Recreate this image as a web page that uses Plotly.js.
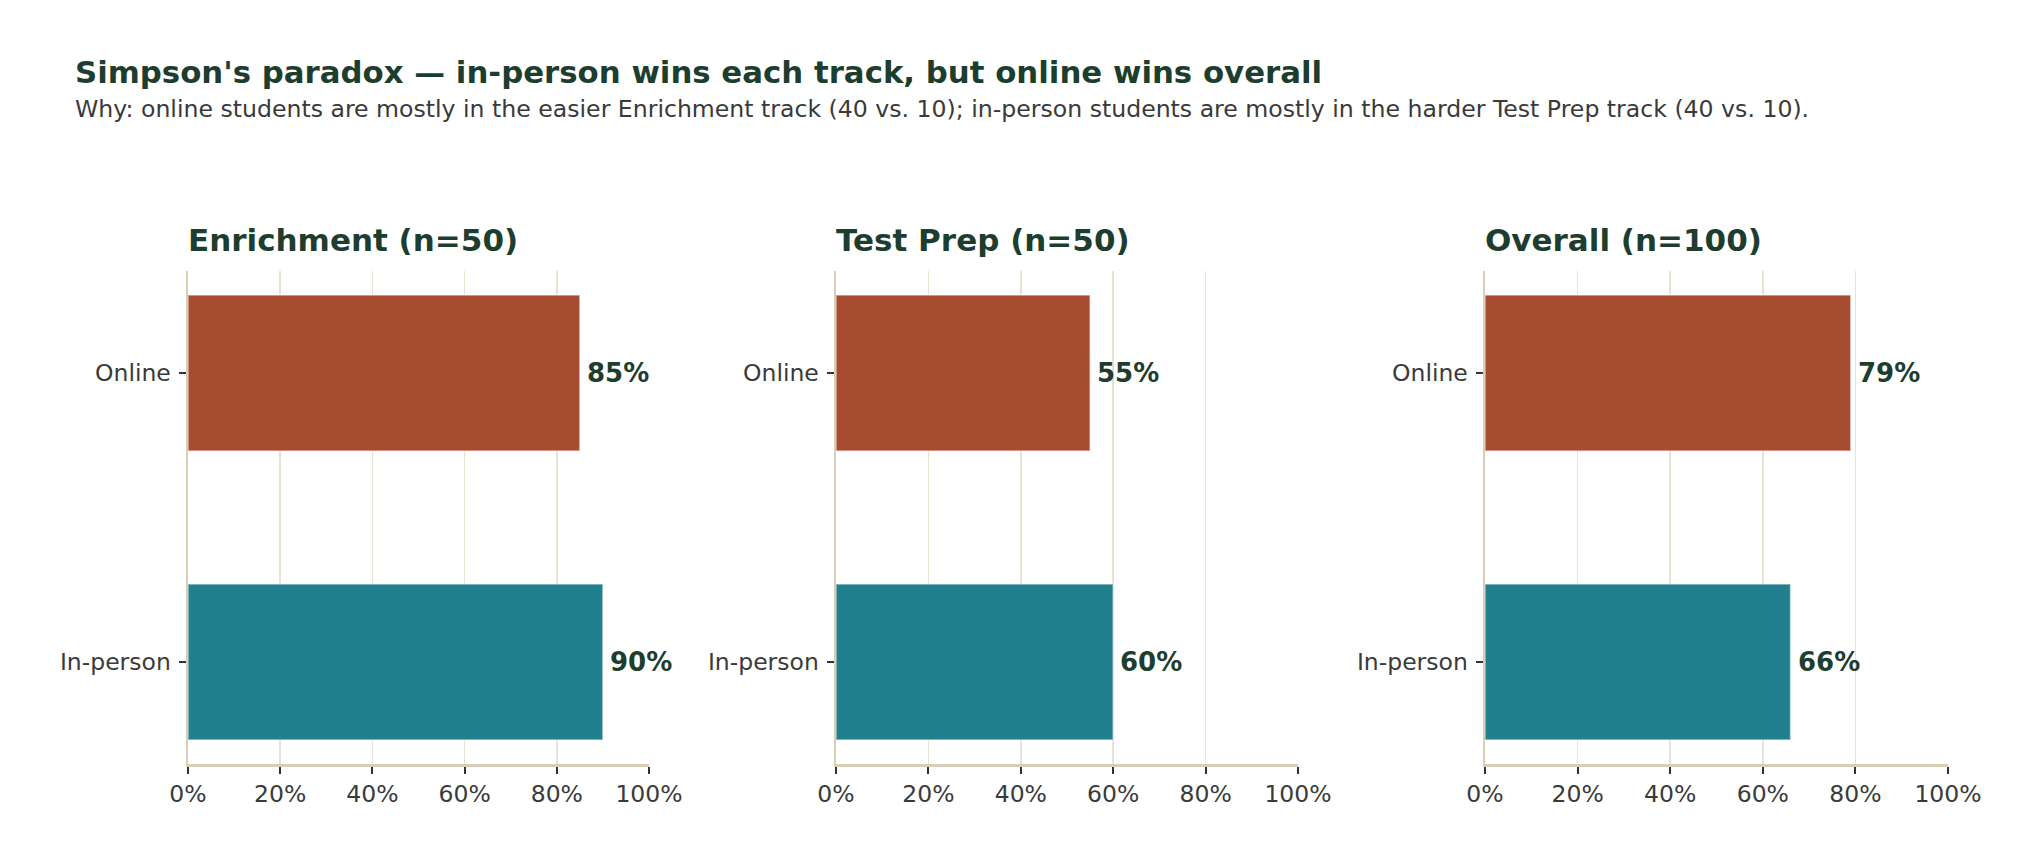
<!DOCTYPE html>
<html>
<head>
<meta charset="utf-8">
<script src="https://cdn.plot.ly/plotly-3.0.1.min.js"></script>
<style>
  html, body { margin: 0; padding: 0; background: #ffffff; }
  #chart { width: 2040px; height: 864px; }
</style>
</head>
<body>
<div id="chart"></div>
<script>
// data
var panels = ["Enrichment (n=50)", "Test Prep (n=50)", "Overall (n=100)"];
var groups = ["In-person", "Online"];
var inPerson = [90, 60, 66];
var online = [85, 55, 79];
var xTicks = [0, 20, 40, 60, 80, 100];
var xTickText = ["0%", "20%", "40%", "60%", "80%", "100%"];

var colOnline = "#a84c31";
var colInPerson = "#21808d";
var ink = "#1d3d2f";
var grey = "#3a3a3a";

var W = 2040, H = 864;
// plot areas, in pixels
var xDom = [[188, 649], [836, 1298], [1485, 1948]];
var yTop = 271, yBot = 764;

var data = [];
var annotations = [];
var layout = {
  width: W,
  height: H,
  margin: {l: 0, r: 0, t: 0, b: 0},
  paper_bgcolor: "#ffffff",
  plot_bgcolor: "#ffffff",
  showlegend: false,
  font: {family: "DejaVu Sans", size: 23.5, color: grey},
  bargap: 0.46
};

for (var i = 0; i < panels.length; i++) {
  var sfx = i == 0 ? "" : String(i + 1);
  var xa = "x" + sfx, ya = "y" + sfx;
  var vals = [inPerson[i], online[i]];

  data.push({
    type: "bar",
    orientation: "h",
    x: vals,
    y: groups,
    xaxis: xa,
    yaxis: ya,
    width: 0.54,
    marker: {
      color: [colInPerson, colOnline],
      line: {color: "rgba(255,255,255,0.55)", width: 1.5}
    },
    hoverinfo: "none"
  });

  layout["xaxis" + sfx] = {
    domain: [xDom[i][0] / W, xDom[i][1] / W],
    anchor: ya,
    range: [0, 100],
    tickvals: xTicks,
    ticktext: xTickText,
    ticks: "outside",
    ticklen: 7,
    tickwidth: 2,
    tickcolor: "#333333",
    showgrid: true,
    gridcolor: "#e8e2d4",
    gridwidth: 1.5,
    zeroline: false,
    showline: true,
    linecolor: "#d9cdb5",
    linewidth: 2.5,
    tickfont: {size: 23.5, color: grey},
    fixedrange: true
  };
  layout["yaxis" + sfx] = {
    domain: [1 - yBot / H, 1 - yTop / H],
    anchor: xa,
    type: "category",
    categoryorder: "array",
    categoryarray: groups,
    range: [-0.353, 1.353],
    ticks: "outside",
    ticklen: 7,
    tickwidth: 2,
    tickcolor: "#333333",
    ticklabelstandoff: 3,
    showgrid: false,
    zeroline: false,
    showline: true,
    linecolor: "#d9cdb5",
    linewidth: 2.5,
    tickfont: {size: 23.5, color: grey},
    fixedrange: true
  };

  // panel title
  annotations.push({
    xref: "paper", yref: "paper",
    x: xDom[i][0] / W, y: 1 - 240 / H,
    xanchor: "left", yanchor: "middle",
    xshift: -2,
    text: "<b>" + panels[i] + "</b>",
    showarrow: false,
    font: {size: 31, color: ink}
  });

  // value labels
  for (var k = 0; k < groups.length; k++) {
    annotations.push({
      xref: xa, yref: ya,
      x: vals[k], y: groups[k],
      xanchor: "left", yanchor: "middle",
      xshift: 5,
      text: "<b>" + vals[k] + "%</b>",
      showarrow: false,
      font: {size: 26, color: ink}
    });
  }
}

annotations.push({
  xref: "paper", yref: "paper",
  x: 73 / W, y: 1 - 72 / H,
  xanchor: "left", yanchor: "middle",
  text: "<b>Simpson's paradox \u2014 in-person wins each track, but online wins overall</b>",
  showarrow: false,
  font: {size: 30.8, color: ink}
});
annotations.push({
  xref: "paper", yref: "paper",
  x: 73 / W, y: 1 - 108.5 / H,
  xanchor: "left", yanchor: "middle",
  text: "Why: online students are mostly in the easier Enrichment track (40 vs. 10); in-person students are mostly in the harder Test Prep track (40 vs. 10).",
  showarrow: false,
  font: {size: 23.6, color: grey}
});

layout.annotations = annotations;

Plotly.newPlot("chart", data, layout, {displayModeBar: false, staticPlot: true});
</script>
</body>
</html>
